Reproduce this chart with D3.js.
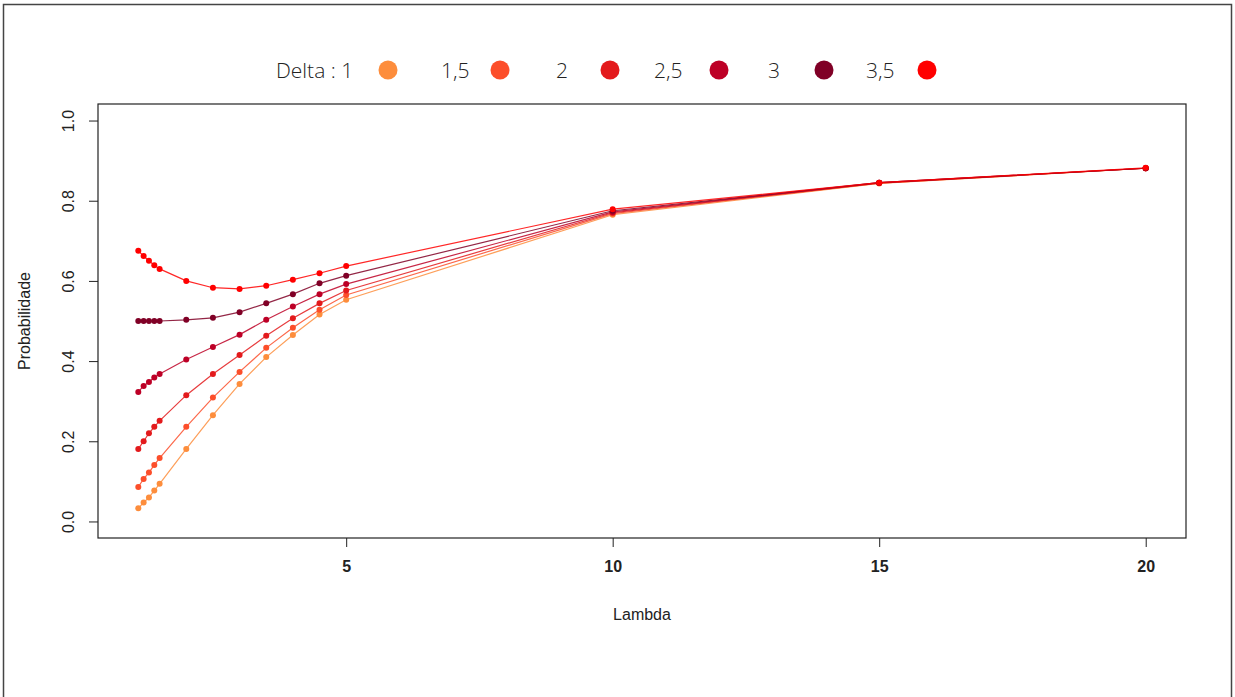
<!DOCTYPE html>
<html>
<head>
<meta charset="utf-8">
<script src="https://cdn.jsdelivr.net/npm/d3@7"></script>
<style>
  body { margin: 0; background: #fff; }
  svg { display: block; }
</style>
</head>
<body>
<svg id="chart" width="1235" height="697"></svg>
<script>
// dados
const lambdas = [1.1, 1.2, 1.3, 1.4, 1.5, 2, 2.5, 3, 3.5, 4, 4.5, 5, 10, 15, 20];
const deltaLabels = ['1', '1,5', '2', '2,5', '3', '3,5'];
const deltaColors = ['#FD8D3C', '#FC4E2A', '#E31A1C', '#BD0026', '#800026', '#FF0000'];

const probD1  = [0.033, 0.047, 0.060, 0.077, 0.094, 0.181, 0.265, 0.343, 0.410, 0.465, 0.516, 0.553, 0.765, 0.843, 0.881];
const probD15 = [0.086, 0.106, 0.122, 0.141, 0.158, 0.236, 0.309, 0.373, 0.433, 0.483, 0.528, 0.565, 0.768, 0.844, 0.881];
const probD2  = [0.181, 0.200, 0.220, 0.236, 0.251, 0.315, 0.368, 0.415, 0.463, 0.507, 0.544, 0.576, 0.770, 0.844, 0.881];
const probD25 = [0.323, 0.338, 0.348, 0.359, 0.368, 0.404, 0.435, 0.466, 0.503, 0.536, 0.567, 0.592, 0.772, 0.845, 0.881];
const probD3  = [0.500, 0.500, 0.500, 0.500, 0.500, 0.503, 0.508, 0.522, 0.544, 0.567, 0.594, 0.613, 0.775, 0.845, 0.881];
const probD35 = [0.675, 0.662, 0.650, 0.639, 0.630, 0.600, 0.583, 0.580, 0.588, 0.603, 0.619, 0.637, 0.779, 0.845, 0.882];

const xTicks = [5, 10, 15, 20];
const yTicks = [0, 0.2, 0.4, 0.6, 0.8, 1.0];

const seriesList = [probD1, probD15, probD2, probD25, probD3, probD35];

const svg = d3.select('#chart');

// moldura externa
svg.append('path')
  .attr('d', 'M3.5,697 V4.5 H1231.5 V697')
  .attr('fill', 'none')
  .attr('stroke', '#444')
  .attr('stroke-width', 1.5);

const box = { left: 98, right: 1186, top: 104, bottom: 538 };

// estilo R: dominio alargado em 4%
const x = d3.scaleLinear().domain([0.344, 20.756]).range([box.left, box.right]);
const y = d3.scaleLinear().domain([-0.04, 1.04]).range([box.bottom - 0.5, box.top + 0.5]);

svg.append('rect')
  .attr('x', box.left).attr('y', box.top)
  .attr('width', box.right - box.left).attr('height', box.bottom - box.top)
  .attr('fill', 'none').attr('stroke', '#222').attr('stroke-width', 1.2);

// eixo x
const xAxis = svg.append('g')
  .attr('transform', `translate(0,${box.bottom})`)
  .call(d3.axisBottom(x).tickValues(xTicks).tickSize(9).tickPadding(14).tickFormat(d3.format('d')));
xAxis.select('.domain').remove();
xAxis.selectAll('line').attr('stroke', '#222');
xAxis.selectAll('text')
  .attr('font-family', 'Liberation Sans, Arial, sans-serif')
  .attr('font-size', 16).attr('font-weight', 'bold').attr('fill', '#222');

// eixo y
const yAxis = svg.append('g')
  .attr('transform', `translate(${box.left},0)`)
  .call(d3.axisLeft(y).tickValues(yTicks).tickSize(9).tickFormat(d3.format('.1f')));
yAxis.select('.domain').remove();
yAxis.selectAll('line').attr('stroke', '#222');
yAxis.selectAll('text')
  .attr('font-family', 'Liberation Sans, Arial, sans-serif')
  .attr('font-size', 16).attr('fill', '#222')
  .attr('text-anchor', 'middle')
  .attr('dy', null)
  .attr('transform', 'translate(-30,0) rotate(-90)')
  .attr('x', 0).attr('y', 0)
  .attr('dominant-baseline', 'central');

svg.append('text')
  .attr('x', (box.left + box.right) / 2).attr('y', 620)
  .attr('text-anchor', 'middle')
  .attr('font-family', 'Liberation Sans, Arial, sans-serif')
  .attr('font-size', 16).attr('fill', '#222')
  .text('Lambda');

svg.append('text')
  .attr('transform', `translate(30,${(box.top + box.bottom) / 2}) rotate(-90)`)
  .attr('text-anchor', 'middle')
  .attr('font-family', 'Liberation Sans, Arial, sans-serif')
  .attr('font-size', 16).attr('fill', '#222')
  .text('Probabilidade');

// linhas e pontos
const line = d3.line().x((d, i) => x(lambdas[i])).y(d => y(d));

seriesList.forEach((vals, k) => {
  svg.append('path')
    .datum(vals)
    .attr('d', line)
    .attr('fill', 'none')
    .attr('stroke', deltaColors[k])
    .attr('stroke-opacity', 0.85)
    .attr('stroke-width', 1.2);
  svg.append('g').selectAll('circle')
    .data(vals)
    .enter()
    .append('circle')
    .attr('cx', (d, i) => x(lambdas[i]))
    .attr('cy', d => y(d))
    .attr('r', 3)
    .attr('fill', deltaColors[k]);
});

// legenda (posicoes medidas na imagem)
const legendDotX = [388, 500, 610, 719, 824, 927];
const legendTextX = [276, 441, 556, 654, 768, 866];
const legend = svg.append('g');
deltaLabels.forEach((lab, k) => {
  legend.append('circle')
    .attr('cx', legendDotX[k]).attr('cy', 70).attr('r', 9.5)
    .attr('fill', deltaColors[k]);
  legend.append('text')
    .attr('x', legendTextX[k]).attr('y', 70)
    .attr('text-anchor', 'start')
    .attr('dominant-baseline', 'central')
    .attr('font-family', 'Open Sans, sans-serif')
    .attr('font-weight', 300)
    .attr('font-size', 21).attr('fill', '#222')
    .text(k === 0 ? 'Delta : ' + lab : lab);
});
</script>
</body>
</html>
